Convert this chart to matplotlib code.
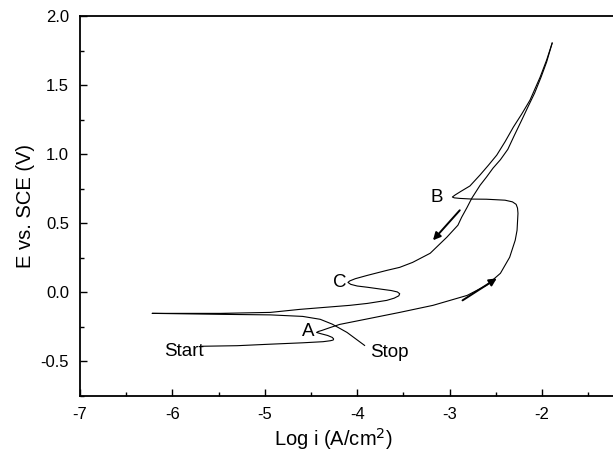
import numpy as np
import matplotlib
matplotlib.use("Agg")
import matplotlib.pyplot as plt
from matplotlib.ticker import MultipleLocator

plt.rcParams["font.family"] = ["Liberation Sans", "DejaVu Sans"]

# forward scan: Start -> A -> anodic loop -> B -> top
fwd_logi = [-5.68, -5.30, -4.94, -4.59, -4.37, -4.29, -4.26, -4.255, -4.27, -4.32,
            -4.40, -4.44, -4.42, -4.38, -4.29, -4.19, -3.86, -3.54, -3.18, -2.81,
            -2.60, -2.45, -2.35, -2.29, -2.27, -2.26, -2.265, -2.28, -2.32, -2.40,
            -2.60, -2.75, -2.89, -2.95, -2.97, -2.94, -2.88, -2.78, -2.67, -2.58,
            -2.49, -2.40, -2.31, -2.22, -2.13, -2.02, -1.95, -1.89]
fwd_E = [-0.390, -0.386, -0.375, -0.365, -0.357, -0.350, -0.345, -0.337, -0.326, -0.312,
         -0.298, -0.290, -0.283, -0.275, -0.254, -0.232, -0.188, -0.145, -0.094, -0.022,
         0.051, 0.138, 0.254, 0.377, 0.449, 0.572, 0.610, 0.637, 0.655, 0.667,
         0.674, 0.675, 0.680, 0.684, 0.690, 0.705, 0.730, 0.770, 0.850, 0.920,
         0.993, 1.090, 1.196, 1.290, 1.391, 1.558, 1.681, 1.804]

# reverse scan: top -> C -> Ecorr spike -> Stop
rev_logi = [-1.89, -1.95, -2.01, -2.08, -2.15, -2.22, -2.30, -2.37, -2.45, -2.53,
            -2.60, -2.67, -2.76, -2.81, -2.87, -2.91, -3.03, -3.21, -3.40, -3.54,
            -3.68, -3.89, -4.02, -4.08, -4.10, -4.07, -4.00, -3.89, -3.75, -3.63,
            -3.565, -3.54, -3.55, -3.60, -3.68, -3.89, -4.08, -4.62, -4.94, -5.48,
            -6.22, -5.48, -4.94, -4.59, -4.40, -4.27, -4.11, -3.92]
rev_E = [1.804, 1.667, 1.558, 1.442, 1.345, 1.246, 1.135, 1.035, 0.960, 0.899,
         0.835, 0.775, 0.681, 0.616, 0.543, 0.486, 0.399, 0.283, 0.217, 0.181,
         0.159, 0.123, 0.099, 0.083, 0.072, 0.058, 0.046, 0.037, 0.024, 0.013,
         0.003, -0.010, -0.025, -0.042, -0.058, -0.080, -0.094, -0.123, -0.145, -0.152,
         -0.152, -0.159, -0.163, -0.174, -0.195, -0.230, -0.290, -0.384]

labels = ["Start", "A", "B", "C", "Stop"]
label_x = [-5.87, -4.53, -3.14, -4.19, -3.65]
label_y = [-0.43, -0.283, 0.688, 0.072, -0.435]

fig = plt.figure(figsize=(6.13, 4.58), dpi=100, facecolor="white")
ax = fig.add_axes([80 / 613, 1 - 396 / 458, 554.4 / 613, 380 / 458])

ax.plot(fwd_logi, fwd_E, color="black", linewidth=0.8)
ax.plot(rev_logi, rev_E, color="black", linewidth=0.8)

for t, x, y in zip(labels, label_x, label_y):
    ax.text(x, y, t, fontsize=13.5, ha="center", va="center")

# scan direction arrows
ax.annotate("", xy=(-2.49, 0.101), xytext=(-2.86, -0.058),
            arrowprops=dict(arrowstyle="-|>", color="black", lw=1.4,
                            mutation_scale=11, shrinkA=0, shrinkB=0))
ax.annotate("", xy=(-3.18, 0.377), xytext=(-2.89, 0.594),
            arrowprops=dict(arrowstyle="-|>", color="black", lw=1.4,
                            mutation_scale=11, shrinkA=0, shrinkB=0))

ax.set_xlim(-7, -1)
ax.set_ylim(-0.75, 2.0)
ax.xaxis.set_minor_locator(MultipleLocator(0.5))
ax.yaxis.set_minor_locator(MultipleLocator(0.25))
ax.set_xticks([-7, -6, -5, -4, -3, -2])
ax.set_xticklabels(["-7", "-6", "-5", "-4", "-3", "-2"])
ax.set_yticks([-0.5, 0.0, 0.5, 1.0, 1.5, 2.0])
ax.set_yticklabels(["-0.5", "0.0", "0.5", "1.0", "1.5", "2.0"])
ax.tick_params(which="both", direction="in", labelsize=12, width=1.0)
ax.tick_params(which="major", length=5, pad=8)
ax.tick_params(which="minor", length=3)
for s in ax.spines.values():
    s.set_linewidth(1.3)

ax.set_xlabel("Log i (A/cm$^2$)", fontsize=14.5)
ax.xaxis.set_label_coords((333 - 80) / 554.4, -0.078)
ax.set_ylabel("E vs. SCE (V)", fontsize=14.5, labelpad=4)

fig.savefig("out.png", dpi=100, facecolor="white")
